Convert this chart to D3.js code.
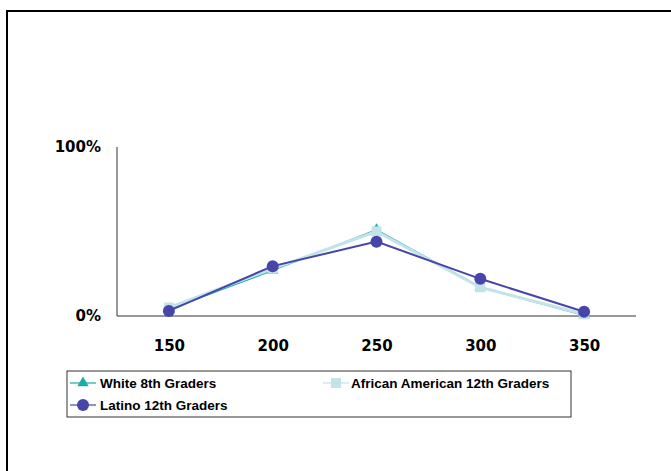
<!DOCTYPE html>
<html>
<head>
<meta charset="utf-8">
<script src="https://cdn.jsdelivr.net/npm/d3@7"></script>
<style>
  html, body { margin: 0; padding: 0; background: #fff; }
  svg { display: block; }
</style>
</head>
<body>
<svg id="chart" width="671" height="471"></svg>
<script>
// Score categories along the x axis
const categories = ["150", "200", "250", "300", "350"];
// Share of students at each score level (percent)
const whiteEighth = [4, 27, 51, 17, 0.5];
const africanAmericanTwelfth = [5, 28, 50, 17, 1];
const latinoTwelfth = [3, 29.5, 44, 22, 2.5];
const yTickLabels = ["0%", "100%"];

const series = [
  { name: "White 8th Graders", values: whiteEighth, color: "#1aaca6", width: 1.5, marker: "triangle" },
  { name: "African American 12th Graders", values: africanAmericanTwelfth, color: "#c2e3e8", width: 3, marker: "square" },
  { name: "Latino 12th Graders", values: latinoTwelfth, color: "#4646aa", width: 2, marker: "circle" }
];

const svg = d3.select("#chart");

// outer frame
svg.append("rect")
  .attr("x", 7).attr("y", 11)
  .attr("width", 700).attr("height", 500)
  .attr("fill", "none").attr("stroke", "#000").attr("stroke-width", 2);

const x = d3.scalePoint().domain(categories).range([117, 636]).padding(0.5);
const y = d3.scaleLinear().domain([0, 100]).range([316, 147]);

// axes
const xAxis = svg.append("g").attr("transform", "translate(0,316)")
  .call(d3.axisBottom(x).tickSize(0).tickPadding(0));
xAxis.select(".domain").attr("stroke", "#333").attr("d", "M117,0H636");
xAxis.selectAll("text")
  .attr("y", 35)
  .attr("dy", 0)
  .attr("fill", "#000")
  .style("font-family", "'DejaVu Sans', Verdana, sans-serif")
  .style("font-weight", "bold")
  .style("font-size", "15px");

const yAxis = svg.append("g").attr("transform", "translate(117,0)")
  .call(d3.axisLeft(y).tickValues([0, 100]).tickFormat((d, i) => yTickLabels[i]).tickSize(0).tickPadding(16));
yAxis.select(".domain").attr("stroke", "#333").attr("d", "M0,147V316");
yAxis.selectAll("text")
  .attr("fill", "#000")
  .style("font-family", "'DejaVu Sans', Verdana, sans-serif")
  .style("font-weight", "bold")
  .style("font-size", "15px");

function drawMarker(g, type, color) {
  if (type === "triangle") {
    g.append("path").attr("d", d3.symbol(d3.symbolTriangle, 56)()).attr("fill", color);
  } else if (type === "square") {
    g.append("rect").attr("x", -5).attr("y", -5).attr("width", 10).attr("height", 10).attr("fill", color);
  } else {
    g.append("circle").attr("r", 6).attr("fill", color);
  }
}

const line = d3.line().x((d, i) => x(categories[i])).y(d => y(d));

series.forEach(s => {
  const g = svg.append("g");
  g.append("path")
    .datum(s.values)
    .attr("d", line)
    .attr("fill", "none")
    .attr("stroke", s.color)
    .attr("stroke-width", s.width);
  s.values.forEach((v, i) => {
    const m = g.append("g").attr("transform", `translate(${x(categories[i])},${y(v)})`);
    drawMarker(m, s.marker, s.color);
  });
});

// legend
const legend = svg.append("g");
legend.append("rect")
  .attr("x", 67).attr("y", 371).attr("width", 504).attr("height", 46)
  .attr("fill", "#fff").attr("stroke", "#333").attr("stroke-width", 1);

const legendPos = [
  { x: 70, y: 383 },
  { x: 323, y: 383 },
  { x: 70, y: 405 }
];
series.forEach((s, i) => {
  const p = legendPos[i];
  const g = legend.append("g").attr("transform", `translate(${p.x},${p.y})`);
  g.append("line").attr("x1", 0).attr("x2", 26).attr("y1", 0).attr("y2", 0)
    .attr("stroke", s.color).attr("stroke-width", 1.2);
  const m = g.append("g").attr("transform", "translate(13,0)");
  drawMarker(m, s.marker, s.color);
  g.append("text")
    .attr("x", i === 1 ? 28 : 30).attr("y", 5)
    .text(s.name)
    .attr("fill", "#000")
    .style("font-family", "'Liberation Sans', Arial, sans-serif")
    .style("font-weight", "bold")
    .style("font-size", "13.5px");
});
</script>
</body>
</html>
